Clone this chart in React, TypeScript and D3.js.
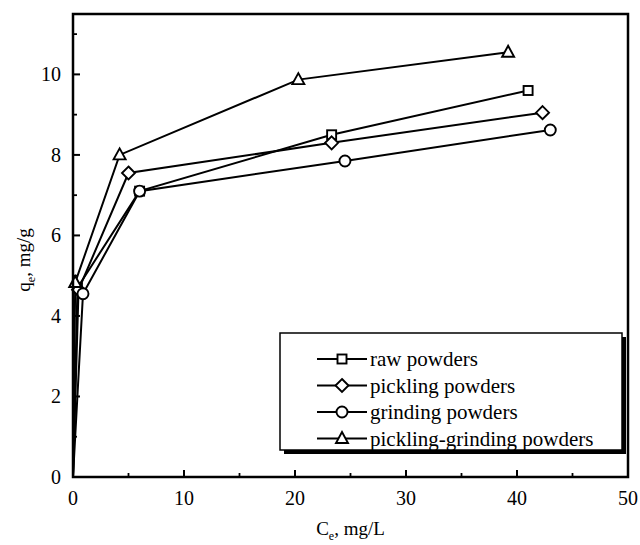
import React from "react";
import * as d3 from "d3";

// isotherm data (Ce mg/L, qe mg/g)
const rawCe = [0, 0.4, 6.0, 23.3, 41.0];
const rawQe = [0, 4.7, 7.1, 8.5, 9.6];

const picklingCe = [0, 0.5, 5.0, 23.3, 42.3];
const picklingQe = [0, 4.65, 7.55, 8.3, 9.05];

const grindingCe = [0, 0.9, 6.0, 24.5, 43.0];
const grindingQe = [0, 4.55, 7.1, 7.85, 8.62];

const pgCe = [0, 0.2, 4.2, 20.3, 39.2];
const pgQe = [0, 4.83, 8.0, 9.87, 10.55];

const seriesNames = ["raw powders", "pickling powders", "grinding powders", "pickling-grinding powders"];
const seriesSymbols = ["square", "diamond", "circle", "triangle"];

const xTicks = [0, 10, 20, 30, 40, 50];
const yTicks = [0, 2, 4, 6, 8, 10];

const W = 640;
const H = 545;
const margin = { top: 14, right: 12, bottom: 68, left: 73 };
const FONT = "'Liberation Serif', 'Times New Roman', serif";

function Marker({ kind, x, y }: { kind: string; x: number; y: number }) {
  const common = { fill: "#fff", stroke: "#000", strokeWidth: 1.9 };
  if (kind === "square") return <rect x={x - 4.5} y={y - 4.5} width={9} height={9} {...common} />;
  if (kind === "circle") return <circle cx={x} cy={y} r={5.5} {...common} />;
  if (kind === "diamond")
    return <path d={`M${x},${y - 6.5}L${x + 6.5},${y}L${x},${y + 6.5}L${x - 6.5},${y}Z`} {...common} />;
  return <path d={`M${x},${y - 6.5}L${x + 6},${y + 4.5}L${x - 6},${y + 4.5}Z`} {...common} />;
}

export default function App() {
  const iw = W - margin.left - margin.right;
  const ih = H - margin.top - margin.bottom;

  const x = d3.scaleLinear().domain([0, 50]).range([0, iw]);
  const y = d3.scaleLinear().domain([0, 11.5]).range([ih, 0]);

  const series = [
    { ce: rawCe, qe: rawQe },
    { ce: picklingCe, qe: picklingQe },
    { ce: grindingCe, qe: grindingQe },
    { ce: pgCe, qe: pgQe },
  ].map((s, i) => ({
    name: seriesNames[i],
    symbol: seriesSymbols[i],
    pts: s.ce.map((c, j) => [c, s.qe[j]] as [number, number]),
  }));

  const line = d3
    .line<[number, number]>()
    .x((d) => x(d[0]))
    .y((d) => y(d[1]));

  const xMinor = d3.range(5, 50, 10);
  const yMinor = d3.range(1, 11.5, 2);

  // legend box
  const lg = { x: 280 - margin.left, y: 333 - margin.top, w: 342, h: 117 };

  return (
    <svg
      width={W}
      height={H}
      style={{ position: "absolute", left: 0, top: 0, background: "#fff" }}
      fontFamily={FONT}
    >
      <g transform={`translate(${margin.left},${margin.top})`}>
        {/* lines */}
        {series.map((s) => (
          <path key={s.name} d={line(s.pts) || ""} fill="none" stroke="#000" strokeWidth={2} />
        ))}
        {series.map((s) =>
          s.pts
            .filter((p) => p[1] > 0)
            .map((p, j) => <Marker key={s.name + j} kind={s.symbol} x={x(p[0])} y={y(p[1])} />)
        )}

        {/* frame */}
        <rect x={0} y={0} width={iw} height={ih} fill="none" stroke="#000" strokeWidth={2.5} />

        {/* x ticks, pointing inward */}
        {xTicks.map((t) => (
          <g key={"x" + t}>
            <line x1={x(t)} x2={x(t)} y1={ih} y2={ih - 7} stroke="#000" strokeWidth={2} />
            <text x={x(t)} y={ih + 28} textAnchor="middle" fontSize={20}>
              {t}
            </text>
          </g>
        ))}
        {xMinor.map((t) => (
          <line key={"xm" + t} x1={x(t)} x2={x(t)} y1={ih} y2={ih - 4} stroke="#000" strokeWidth={1.8} />
        ))}

        {/* y ticks */}
        {yTicks.map((t) => (
          <g key={"y" + t}>
            <line x1={0} x2={7} y1={y(t)} y2={y(t)} stroke="#000" strokeWidth={2} />
            <text x={-12} y={y(t) + 7} textAnchor="end" fontSize={20}>
              {t}
            </text>
          </g>
        ))}
        {yMinor.map((t) => (
          <line key={"ym" + t} x1={0} x2={4} y1={y(t)} y2={y(t)} stroke="#000" strokeWidth={1.8} />
        ))}

        {/* axis titles */}
        <text x={iw / 2} y={ih + 58} textAnchor="middle" fontSize={19} fill="#000">
          C<tspan fontSize={12} dy={5}>e</tspan>
          <tspan dy={-5}>, mg/L</tspan>
        </text>
        <text
          transform={`translate(${30 - margin.left},${260 - margin.top}) rotate(-90)`}
          textAnchor="middle"
          fontSize={19}
          fill="#000"
        >
          q<tspan fontSize={12} dy={5}>e</tspan>
          <tspan dy={-5}>, mg/g</tspan>
        </text>

        {/* legend */}
        <rect x={lg.x + 4} y={lg.y + 4} width={lg.w} height={lg.h} fill="#000" />
        <rect x={lg.x} y={lg.y} width={lg.w} height={lg.h} fill="#fff" stroke="#000" strokeWidth={1.5} />
        {series.map((s, i) => {
          const cy = lg.y + 26 + i * 26.5;
          const sx = lg.x + 62;
          return (
            <g key={"lg" + s.name}>
              <line x1={sx - 25} x2={sx + 25} y1={cy} y2={cy} stroke="#000" strokeWidth={2} />
              <Marker kind={s.symbol} x={sx} y={cy} />
              <text x={sx + 28} y={cy + 7} fontSize={21}>
                {s.name}
              </text>
            </g>
          );
        })}
      </g>
    </svg>
  );
}
